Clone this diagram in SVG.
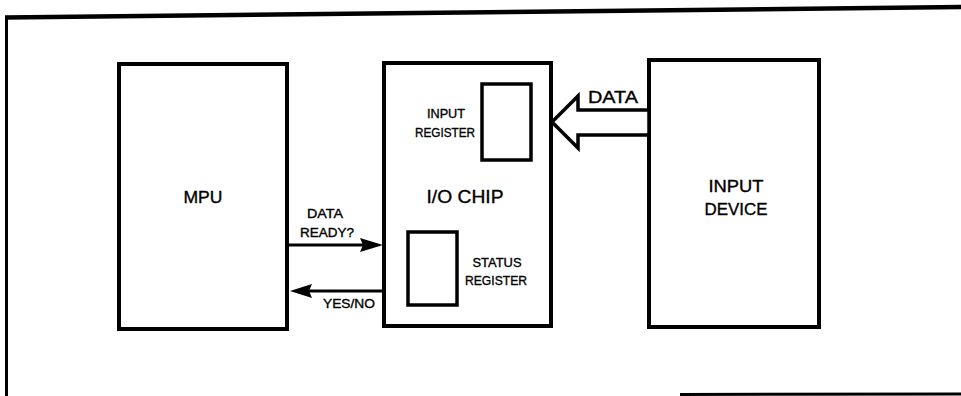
<svg xmlns="http://www.w3.org/2000/svg" width="961" height="396" viewBox="0 0 961 396">
<defs>
<style>
.box{fill:#fff;stroke:#000;stroke-width:4}
.reg{fill:#fff;stroke:#000;stroke-width:3.5}
.ln{stroke:#000;fill:none}
text{font-family:"Liberation Sans","DejaVu Sans",sans-serif;fill:#000;stroke:#000;stroke-width:0.35;text-anchor:middle}
.s{font-size:13px}
.m{font-size:16.5px}
.l{font-size:18.5px}
</style>
</defs>
<rect width="961" height="396" fill="#fff"/>
<g id="frame">
<line class="ln" x1="5" y1="17.5" x2="961" y2="7" stroke-width="4.5"/>
<line class="ln" x1="6.5" y1="16" x2="6.5" y2="396" stroke-width="3"/>
<line class="ln" x1="680" y1="394.5" x2="961" y2="394" stroke-width="3"/>
</g>
<g id="mpu">
<rect class="box" x="119" y="64" width="168" height="265"/>
<text class="m" x="203" y="203" textLength="39" lengthAdjust="spacingAndGlyphs">MPU</text>
</g>
<g id="io-chip">
<rect class="box" x="384" y="63" width="167" height="263"/>
<text class="l" x="465" y="203" textLength="77" lengthAdjust="spacingAndGlyphs">I/O CHIP</text>
</g>
<g id="input-register">
<rect class="reg" x="482" y="84" width="49" height="76"/>
<text class="s" x="446" y="118" textLength="38" lengthAdjust="spacingAndGlyphs">INPUT</text>
<text class="s" x="445" y="137" textLength="60" lengthAdjust="spacingAndGlyphs">REGISTER</text>
</g>
<g id="status-register">
<rect class="reg" x="408" y="232" width="49" height="73"/>
<text class="s" x="497" y="267" textLength="49" lengthAdjust="spacingAndGlyphs">STATUS</text>
<text class="s" x="496" y="285" textLength="62" lengthAdjust="spacingAndGlyphs">REGISTER</text>
</g>
<g id="input-device">
<rect class="box" x="649" y="60" width="170" height="267"/>
<text class="m" x="736" y="192" textLength="55" lengthAdjust="spacingAndGlyphs">INPUT</text>
<text class="m" x="736" y="215" textLength="63" lengthAdjust="spacingAndGlyphs">DEVICE</text>
</g>
<g id="connectors">
<line class="ln" x1="288" y1="245" x2="365" y2="245" stroke-width="3"/>
<polygon points="360,238 383,245 360,252 363,245" fill="#000"/>
<text class="s" x="325" y="218" textLength="36" lengthAdjust="spacingAndGlyphs">DATA</text>
<text class="s" x="327" y="237" textLength="54" lengthAdjust="spacingAndGlyphs">READY?</text>
<line class="ln" x1="384" y1="291" x2="308" y2="291" stroke-width="3"/>
<polygon points="312,284 290,291 312,298 309,291" fill="#000"/>
<text class="s" x="349" y="308" textLength="52" lengthAdjust="spacingAndGlyphs">YES/NO</text>
<polygon points="649,110 578,110 578,96 552,122 578,148 578,135 649,135" fill="#fff" stroke="#000" stroke-width="3.5" stroke-linejoin="miter"/>
<text class="m" x="613" y="103" textLength="50" lengthAdjust="spacingAndGlyphs">DATA</text>
</g>
</svg>
